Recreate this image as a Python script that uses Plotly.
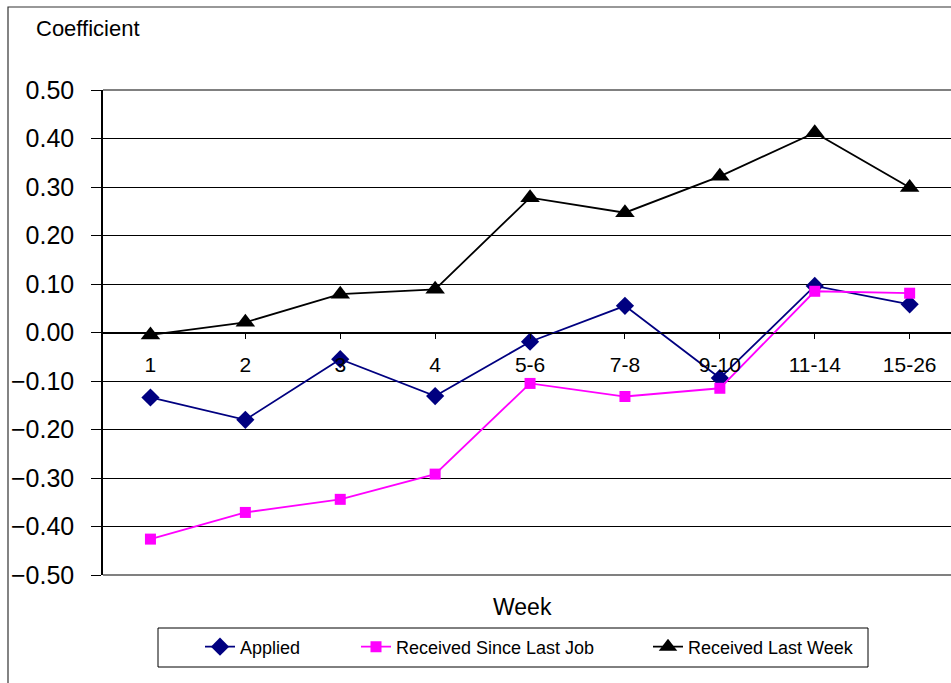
import plotly.graph_objects as go

# Week groups on the horizontal axis
weeks = ["1", "2", "3", "4", "5-6", "7-8", "9-10", "11-14", "15-26"]

# Estimated coefficients per week group
applied = [-0.134, -0.180, -0.055, -0.131, -0.019, 0.055, -0.094, 0.096, 0.058]
received_since_last_job = [-0.426, -0.371, -0.344, -0.292, -0.105, -0.132, -0.115, 0.085, 0.081]
received_last_week = [-0.005, 0.021, 0.079, 0.089, 0.278, 0.247, 0.322, 0.412, 0.299]

y_ticks = [-0.5, -0.4, -0.3, -0.2, -0.1, 0.0, 0.1, 0.2, 0.3, 0.4, 0.5]

FONT = "Liberation Sans, Arial, sans-serif"
xs = list(range(len(weeks)))

fig = go.Figure()

fig.add_trace(go.Scatter(
    x=xs, y=applied, name="Applied", mode="lines+markers",
    line=dict(color="#000080", width=1.8),
    marker=dict(symbol="diamond", size=14, color="#000080"),
    legend="legend", showlegend=True,
))
fig.add_trace(go.Scatter(
    x=xs, y=received_since_last_job, name="Received Since Last Job", mode="lines+markers",
    line=dict(color="#FF00FF", width=1.8),
    marker=dict(symbol="square", size=11, color="#FF00FF"),
    legend="legend2", showlegend=True,
))
fig.add_trace(go.Scatter(
    x=xs, y=received_last_week, name="Received Last Week", mode="lines+markers",
    line=dict(color="#000000", width=1.8),
    marker=dict(symbol="triangle-up", size=17, color="#000000"),
    legend="legend3", showlegend=True,
))

W, H = 951, 683
L, R, T, B = 103, 0, 90, 108
pw, ph = W - L - R, H - T - B


def px_x(p):
    return (p - L) / pw


def px_y(p):
    return (H - B - p) / ph


legend_common = dict(
    orientation="h", yanchor="middle", xanchor="left",
    bgcolor="rgba(0,0,0,0)", borderwidth=0,
    font=dict(family=FONT, size=18, color="#000000"),
)

fig.update_layout(
    width=W, height=H,
    margin=dict(l=L, r=R, t=T, b=B),
    paper_bgcolor="white", plot_bgcolor="white",
    font=dict(family=FONT, color="#000000"),
    showlegend=True,
    xaxis=dict(
        range=[-0.5, -0.5 + pw / 94.9],
        tickmode="array", tickvals=xs, ticktext=weeks,
        anchor="free", position=0.5,
        showline=True, linecolor="#000000", linewidth=1.2,
        showgrid=False, zeroline=False,
        ticks="outside", ticklen=5, tickcolor="#000000", tickson="boundaries",
        ticklabelstandoff=8,
        tickfont=dict(family=FONT, size=21, color="#000000"),
    ),
    yaxis=dict(
        range=[-0.5, 0.5],
        tickmode="array", tickvals=y_ticks, tickformat=".2f",
        showline=True, linecolor="#000000", linewidth=1.5,
        showgrid=True, gridcolor="#000000", gridwidth=1,
        zeroline=False,
        ticks="outside", ticklen=10, tickcolor="#000000",
        ticklabelstandoff=12,
        tickfont=dict(family=FONT, size=25, color="#000000"),
    ),
    legend=dict(x=px_x(200), y=px_y(647), **legend_common),
    legend2=dict(x=px_x(356), y=px_y(647), **legend_common),
    legend3=dict(x=px_x(648), y=px_y(647), **legend_common),
    annotations=[
        dict(text="Coefficient", xref="paper", yref="paper",
             x=px_x(34), y=px_y(28), xanchor="left", yanchor="middle",
             showarrow=False, font=dict(family=FONT, size=22, color="#000000")),
        dict(text="Week", xref="paper", yref="paper",
             x=px_x(522), y=px_y(607), xanchor="center", yanchor="middle",
             showarrow=False, font=dict(family=FONT, size=23, color="#000000")),
    ],
    shapes=[
        # outer chart frame
        dict(type="rect", xref="paper", yref="paper",
             x0=px_x(8), x1=px_x(W + 10), y0=px_y(H + 10), y1=px_y(7),
             line=dict(color="#333333", width=1.2), layer="below"),
        # plot area top and bottom edges
        dict(type="line", xref="paper", yref="paper", x0=0, x1=1, y0=1, y1=1,
             line=dict(color="#808080", width=2), layer="above"),
        dict(type="line", xref="paper", yref="paper", x0=0, x1=1, y0=0, y1=0,
             line=dict(color="#808080", width=2), layer="above"),
        # legend frame
        dict(type="rect", xref="paper", yref="paper",
             x0=px_x(158), x1=px_x(868), y0=px_y(667), y1=px_y(628),
             line=dict(color="#000000", width=1), fillcolor="rgba(0,0,0,0)"),
    ],
)

fig.write_html("out.html")
